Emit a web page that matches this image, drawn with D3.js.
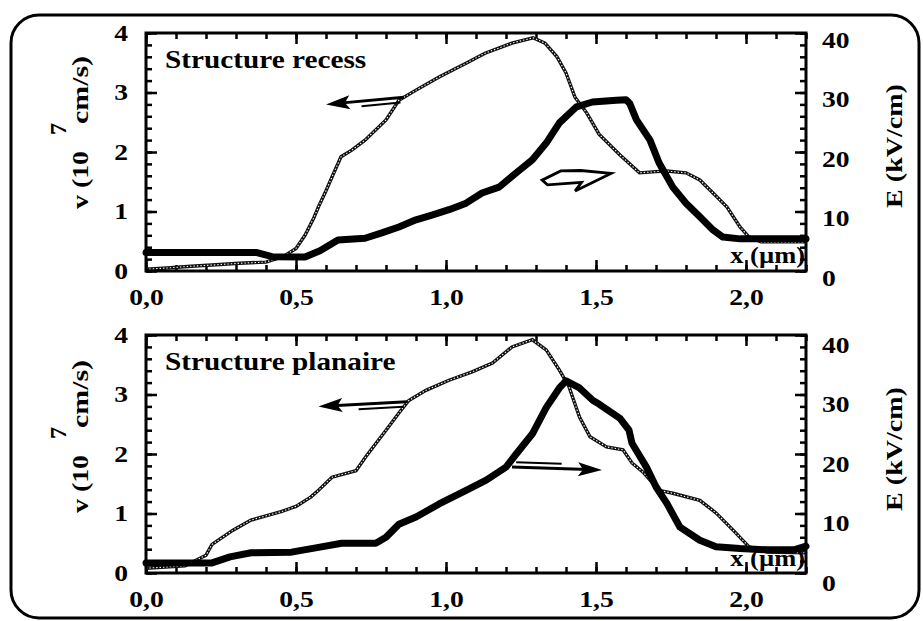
<!DOCTYPE html>
<html>
<head>
<meta charset="utf-8">
<script src="https://cdn.jsdelivr.net/npm/d3@7"></script>
<style>
  body { margin: 0; background: #fff; }
  text { font-family: 'Liberation Serif', 'Times New Roman', serif; font-weight: bold; fill: #000; }
</style>
</head>
<body>
<div id="chart"></div>
<script>
// x position (µm)
const xTicks = [0, 0.5, 1, 1.5, 2];
const xTickLabels = ['0,0', '0,5', '1,0', '1,5', '2,0'];
const vTicks = [0, 1, 2, 3, 4];
const eTicks = [0, 10, 20, 30, 40];

// velocity v (10^7 cm/s), thin dotted curve
const recessVelocity = [
  [0, 0.03], [0.07, 0.05], [0.15, 0.08], [0.22, 0.1], [0.31, 0.13], [0.4, 0.15],
  [0.46, 0.25], [0.5, 0.38], [0.53, 0.6], [0.56, 0.9], [0.575, 1.08], [0.6, 1.35],
  [0.62, 1.58], [0.65, 1.92], [0.686, 2.03], [0.73, 2.2], [0.8, 2.54], [0.843, 2.87],
  [0.9, 3.04], [0.977, 3.26], [1.07, 3.5], [1.13, 3.66], [1.22, 3.83], [1.29, 3.92],
  [1.33, 3.83], [1.37, 3.6], [1.4, 3.33], [1.43, 2.92], [1.47, 2.65], [1.51, 2.3],
  [1.58, 1.95], [1.645, 1.65], [1.7, 1.67], [1.735, 1.68], [1.8, 1.65], [1.846, 1.53],
  [1.89, 1.31], [1.936, 1.08], [1.98, 0.74], [2.01, 0.57], [2.05, 0.49], [2.2, 0.49]
];
// field E (kV/cm), thick curve
const recessField = [
  [0, 3.1], [0.37, 3.1], [0.42, 2.4], [0.53, 2.35], [0.58, 3.4], [0.64, 5.2],
  [0.73, 5.5], [0.786, 6.4], [0.843, 7.4], [0.9, 8.6], [0.953, 9.4], [1.01, 10.3],
  [1.067, 11.4], [1.12, 13.1], [1.177, 14.1], [1.234, 16.5], [1.288, 18.7], [1.334, 21.5],
  [1.378, 24.9], [1.435, 27.6], [1.488, 28.4], [1.568, 28.7], [1.6, 28.8], [1.612, 28.2],
  [1.635, 25.4], [1.68, 22], [1.71, 18.2], [1.756, 14.1], [1.8, 11.4], [1.846, 9.1],
  [1.89, 6.9], [1.923, 5.7], [1.98, 5.4], [2.2, 5.4]
];
const planarVelocity = [
  [0, 0.08], [0.13, 0.12], [0.2, 0.3], [0.22, 0.48], [0.29, 0.72], [0.35, 0.89],
  [0.45, 1.03], [0.5, 1.12], [0.55, 1.28], [0.575, 1.39], [0.62, 1.61], [0.7, 1.72],
  [0.732, 1.95], [0.8, 2.4], [0.843, 2.69], [0.876, 2.9], [0.933, 3.07], [1.01, 3.24],
  [1.087, 3.38], [1.155, 3.53], [1.22, 3.8], [1.288, 3.92], [1.334, 3.75], [1.378, 3.41],
  [1.41, 3.13], [1.445, 2.62], [1.48, 2.29], [1.535, 2.12], [1.59, 2.07], [1.62, 1.85],
  [1.66, 1.68], [1.71, 1.39], [1.756, 1.34], [1.846, 1.22], [1.9, 1.01], [1.957, 0.72],
  [2.01, 0.44], [2.07, 0.35], [2.2, 0.34]
];
const planarField = [
  [0, 1.7], [0.22, 1.7], [0.28, 2.7], [0.35, 3.4], [0.485, 3.5], [0.575, 4.3],
  [0.652, 5.0], [0.766, 5.0], [0.8, 6.0], [0.843, 8.2], [0.9, 9.4], [0.977, 11.6],
  [1.067, 13.9], [1.134, 15.6], [1.2, 17.8], [1.234, 20.0], [1.288, 23.4], [1.334, 27.8],
  [1.378, 31.1], [1.4, 32.3], [1.445, 31.1], [1.49, 29], [1.51, 28.4], [1.58, 26],
  [1.61, 24], [1.62, 21.8], [1.668, 17.8], [1.7, 14.5], [1.735, 11.8], [1.78, 7.7],
  [1.846, 5.5], [1.9, 4.4], [1.98, 4.1], [2.07, 3.9], [2.16, 3.9], [2.2, 4.5]
];

// arrows: [x, value] tail -> tip, on the v axis (left) or E axis (right)
const recessArrows = [
  { axis: 'v', from: [0.86, 2.92], to: [0.6, 2.8], hollow: false },
  { axis: 'E', from: [1.32, 15.6], to: [1.55, 16.4], hollow: true }
];
const planarArrows = [
  { axis: 'v', from: [0.87, 2.88], to: [0.575, 2.8], hollow: false },
  { axis: 'E', from: [1.22, 17.8], to: [1.52, 17.3], hollow: false }
];

const width = 923;
const height = 621;

const svg = d3.select('#chart')
  .append('svg')
  .attr('width', width)
  .attr('height', height);

// rounded outer frame
svg.append('rect')
  .attr('x', 11).attr('y', 15)
  .attr('width', 908).attr('height', 603)
  .attr('rx', 28)
  .attr('fill', 'none')
  .attr('stroke', '#000')
  .attr('stroke-width', 3);

const xScale = d3.scaleLinear().domain([0, 2.2]).range([146, 806]);

// widen Times-like glyphs horizontally (the scan is stretched)
function widen(sel, k) {
  sel.each(function () {
    const w = this.getComputedTextLength();
    this.setAttribute('textLength', w * k);
    this.setAttribute('lengthAdjust', 'spacingAndGlyphs');
  });
}

const panels = [
  {
    top: 33, bottom: 271, title: 'Structure recess',
    velocity: recessVelocity, field: recessField, arrows: recessArrows,
    rightDy: 7, vLabelY: 132, eLabelY: 146, xLabelY: 263
  },
  {
    top: 335, bottom: 573, title: 'Structure planaire',
    velocity: planarVelocity, field: planarField, arrows: planarArrows,
    rightDy: 10, vLabelY: 436, eLabelY: 449, xLabelY: 566
  }
];

panels.forEach((p) => {
  const g = svg.append('g');
  const vScale = d3.scaleLinear().domain([0, 4]).range([p.bottom, p.top]);
  const eScale = d3.scaleLinear().domain([0, 40]).range([p.bottom, p.top]);

  // minor ticks
  g.append('g').attr('transform', `translate(146,0)`)
    .call(d3.axisLeft(vScale).tickValues(d3.range(0, 4.01, 0.2)).tickSizeInner(-6).tickSizeOuter(0).tickFormat(''));
  g.append('g').attr('transform', `translate(806,0)`)
    .call(d3.axisRight(eScale).tickValues(d3.range(0, 40.1, 2)).tickSizeInner(-6).tickSizeOuter(0).tickFormat(''));
  g.append('g').attr('transform', `translate(0,${p.top})`)
    .call(d3.axisTop(xScale).tickValues(d3.range(0, 2.21, 0.1)).tickSizeInner(-6).tickSizeOuter(0).tickFormat(''));
  g.append('g').attr('transform', `translate(0,${p.bottom})`)
    .call(d3.axisBottom(xScale).tickValues(d3.range(0, 2.21, 0.1)).tickSizeInner(-6).tickSizeOuter(0).tickFormat(''));

  // major ticks and labels
  const left = g.append('g').attr('transform', `translate(146,0)`)
    .call(d3.axisLeft(vScale).tickValues(vTicks).tickSizeInner(-11).tickSizeOuter(0).tickPadding(18).tickFormat(d3.format('d')));
  const right = g.append('g').attr('transform', `translate(806,0)`)
    .call(d3.axisRight(eScale).tickValues(eTicks).tickSizeInner(-11).tickSizeOuter(0).tickPadding(16).tickFormat(d3.format('d')));
  g.append('g').attr('transform', `translate(0,${p.top})`)
    .call(d3.axisTop(xScale).tickValues(xTicks).tickSizeInner(-11).tickSizeOuter(0).tickFormat(''));
  const bottom = g.append('g').attr('transform', `translate(0,${p.bottom})`)
    .call(d3.axisBottom(xScale).tickValues(xTicks).tickSizeInner(-11).tickSizeOuter(0).tickPadding(18)
      .tickFormat((d, i) => xTickLabels[i]));

  g.selectAll('.domain').remove();
  g.selectAll('.tick line').attr('stroke', '#000').attr('stroke-width', 2.5);
  [left, right, bottom].forEach((a) => {
    a.selectAll('text')
      .attr('font-size', 23)
      .attr('font-family', "'Liberation Serif', 'Times New Roman', serif")
      .attr('font-weight', 'bold')
      .attr('fill', '#000');
  });
  right.selectAll('text').attr('dy', `${0.32 + p.rightDy / 23}em`);
  widen(left.selectAll('text'), 1.2);
  widen(right.selectAll('text'), 1.2);
  widen(bottom.selectAll('text'), 1.2);

  // curves
  const vLine = d3.line().x((d) => xScale(d[0])).y((d) => vScale(d[1]));
  const eLine = d3.line().x((d) => xScale(d[0])).y((d) => eScale(d[1]));

  g.append('path').datum(p.velocity)
    .attr('d', vLine).attr('fill', 'none')
    .attr('stroke', '#111').attr('stroke-width', 3.4);
  g.append('path').datum(p.velocity)
    .attr('d', vLine).attr('fill', 'none')
    .attr('stroke', '#fff').attr('stroke-width', 1.1)
    .attr('stroke-dasharray', '1.4,2');

  g.append('path').datum(p.field)
    .attr('d', eLine).attr('fill', 'none')
    .attr('stroke', '#000').attr('stroke-width', 7)
    .attr('stroke-linejoin', 'round').attr('stroke-linecap', 'round');

  // arrows
  p.arrows.forEach((a) => {
    const sc = a.axis === 'v' ? vScale : eScale;
    const x0 = xScale(a.from[0]), y0 = sc(a.from[1]);
    const x1 = xScale(a.to[0]), y1 = sc(a.to[1]);
    const ang = Math.atan2(y1 - y0, x1 - x0);
    const ag = g.append('g').attr('transform', `translate(${x1},${y1}) rotate(${ang * 180 / Math.PI})`);
    const len = Math.hypot(x1 - x0, y1 - y0);
    if (a.hollow) {
      ag.append('path')
        .attr('d', `M0,0 L-30,-5 L-50,-6 L-${len},2 L-${len - 5},7 L-30,7 L-37,15 Z`)
        .attr('fill', '#fff').attr('stroke', '#000').attr('stroke-width', 2.8)
        .attr('stroke-linejoin', 'miter');
    } else {
      ag.append('line').attr('x1', -len).attr('y1', 0).attr('x2', -14).attr('y2', 0)
        .attr('stroke', '#000').attr('stroke-width', 3);
      ag.append('path').attr('d', 'M0,0 L-24,-7 L-19,0 L-24,7 Z').attr('fill', '#000');
      ag.append('line').attr('x1', -len + 4).attr('y1', -5).attr('x2', -len * 0.45).attr('y2', -5)
        .attr('stroke', '#000').attr('stroke-width', 2);
    }
  });

  // frame of the plot
  g.append('rect')
    .attr('x', 146).attr('y', p.top)
    .attr('width', 660).attr('height', p.bottom - p.top)
    .attr('fill', 'none').attr('stroke', '#000').attr('stroke-width', 3);

  // texts
  const title = g.append('text')
    .attr('x', 165).attr('y', p.top + 35)
    .attr('font-size', 25)
    .text(p.title);
  widen(title, 1.17);

  const xl = g.append('text')
    .attr('x', 805).attr('y', p.xLabelY)
    .attr('text-anchor', 'end')
    .attr('font-size', 23)
    .text('x (µm)');
  widen(xl, 1.15);

  // v (10^7 cm/s), pieces placed along the rotated baseline
  const vl = g.append('g')
    .attr('transform', `translate(88,${p.vLabelY}) rotate(-90)`);
  [
    { s: 'v (10', x: -77, y: 0, len: 58 },
    { s: '7', x: -3, y: -22, len: 12 },
    { s: 'cm/s)', x: 8, y: 0, len: 68 }
  ].forEach((t) => {
    vl.append('text')
      .attr('x', t.x).attr('y', t.y)
      .attr('font-size', 23)
      .attr('textLength', t.len)
      .attr('lengthAdjust', 'spacingAndGlyphs')
      .text(t.s);
  });

  g.append('text')
    .attr('transform', `translate(902,${p.eLabelY}) rotate(-90) scale(1.22,1)`)
    .attr('text-anchor', 'middle')
    .attr('font-size', 23)
    .text('E (kV/cm)');
});
</script>
</body>
</html>
